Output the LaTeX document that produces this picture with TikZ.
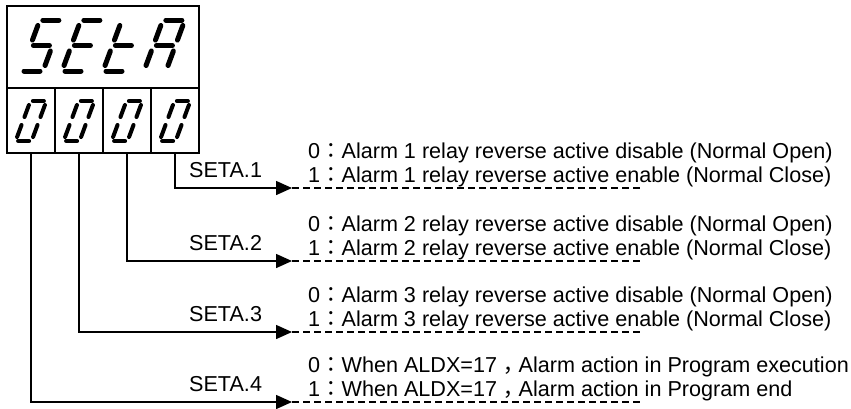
\documentclass[tikz,border=0pt]{standalone}
\usepackage{fontspec}
\setmainfont{Liberation Sans}
\newfontfamily\cjkfont{Noto Sans CJK TC}
\usetikzlibrary{arrows.meta}
\newcommand\fw[1]{{\cjkfont #1}}
\newcommand\fwcomma{\raisebox{-0.28em}{\cjkfont ，}}
\tikzset{
  frame/.style={draw, line width=1.8pt, inner sep=0pt, outer sep=0pt},
  segbig/.style={line width=5pt, line cap=round},
  segsmall/.style={line width=4pt, line cap=round},
  conn/.style={line width=1.5pt, -{Triangle[length=16pt,width=14pt]}},
  dashline/.style={line width=1.3pt, dash pattern=on 7pt off 4pt},
  txt/.style={font=\fontsize{21.6}{24}\selectfont, inner sep=0pt, outer sep=0pt}
}
\def\sevsega{\draw[\sgstyle] (\gh,\H) -- ({\W-\gh},\H);}
\def\sevsegb{\draw[\sgstyle] (\W,{\H-\gv}) -- (\W,{\H/2+\gv});}
\def\sevsegc{\draw[\sgstyle] (\W,{\H/2-\gv}) -- (\W,\gv);}
\def\sevsegd{\draw[\sgstyle] (\gh,0) -- ({\W-\gh},0);}
\def\sevsege{\draw[\sgstyle] (0,\gv) -- (0,{\H/2-\gv});}
\def\sevsegf{\draw[\sgstyle] (0,{\H/2+\gv}) -- (0,{\H-\gv});}
\def\sevsegg{\draw[\sgstyle] (\gh,{\H/2}) -- ({\W-\gh},{\H/2});}
% #1 x, #2 y of bottom-left, #3 W, #4 H, #5 gap h, #6 gap v, #7 style, #8 segments
\newcommand\sevenseg[8]{%
  \begin{scope}[shift={(#1,#2)}, xslant=0.37, x=1pt, y=1pt]
    \def\W{#3}\def\H{#4}\def\gh{#5}\def\gv{#6}\def\sgstyle{#7}%
    \foreach \sg in {#8}{\csname sevseg\sg\endcsname}
  \end{scope}}
\begin{document}
\begin{tikzpicture}[x=1pt, y=-1pt]
\useasboundingbox (0,0) rectangle (851,408);
% display frame
\node[frame, minimum width=192pt, minimum height=82pt] (disp) at (103,47) {};
\node[frame, minimum width=48pt, minimum height=65pt] (c1) at (31,120.5) {};
\node[frame, minimum width=48pt, minimum height=65pt] (c2) at (79,120.5) {};
\node[frame, minimum width=48pt, minimum height=65pt] (c3) at (127,120.5) {};
\node[frame, minimum width=48pt, minimum height=65pt] (c4) at (175,120.5) {};
% SEtA
\sevenseg{21}{71}{22}{51}{3}{5.5}{segbig}{a,f,g,c,d}
\sevenseg{62}{71}{22}{51}{3}{5.5}{segbig}{a,f,g,e,d}
\sevenseg{103}{71}{22}{51}{3}{5.5}{segbig}{f,g,e,d}
\sevenseg{144}{71}{22}{51}{3}{5.5}{segbig}{a,b,c,e,f,g}
% 0000
\sevenseg{15.6}{141}{16}{40}{2.5}{4}{segsmall}{a,b,c,d,e,f}
\sevenseg{63.6}{141}{16}{40}{2.5}{4}{segsmall}{a,b,c,d,e,f}
\sevenseg{111.6}{141}{16}{40}{2.5}{4}{segsmall}{a,b,c,d,e,f}
\sevenseg{159.6}{141}{16}{40}{2.5}{4}{segsmall}{a,b,c,d,e,f}
% arrow tips and dashed ends
\coordinate (p1) at (292,188); \coordinate (q1) at (643,188);
\coordinate (p2) at (292,261); \coordinate (q2) at (643,261);
\coordinate (p3) at (292,332); \coordinate (q3) at (643,332);
\coordinate (p4) at (292,402); \coordinate (q4) at (643,402);
\draw[conn] (c4.south) |- (p1);
\draw[conn] (c3.south) |- (p2);
\draw[conn] (c2.south) |- (p3);
\draw[conn] (c1.south) |- (p4);
\draw[dashline] (p1) -- (q1);
\draw[dashline] (p2) -- (q2);
\draw[dashline] (p3) -- (q3);
\draw[dashline] (p4) -- (q4);
% labels
\node[txt, anchor=base east] (l1) at (262,177.5) {SETA.1};
\node[txt, anchor=base east] (l2) at (262,250.5) {SETA.2};
\node[txt, anchor=base east] (l3) at (262,321.5) {SETA.3};
\node[txt, anchor=base east] (l4) at (262,391.5) {SETA.4};
% descriptions
\node[txt, anchor=base west] (a0) at (308,158) {0\fw{：}Alarm 1 relay reverse active disable (Normal Open)};
\node[txt, anchor=base west] (a1) at (308,182.5) {1\fw{：}Alarm 1 relay reverse active enable (Normal Close)};
\node[txt, anchor=base west] (b0) at (308,231) {0\fw{：}Alarm 2 relay reverse active disable (Normal Open)};
\node[txt, anchor=base west] (b1) at (308,255.5) {1\fw{：}Alarm 2 relay reverse active enable (Normal Close)};
\node[txt, anchor=base west] (d0) at (308,302) {0\fw{：}Alarm 3 relay reverse active disable (Normal Open)};
\node[txt, anchor=base west] (d1) at (308,326.5) {1\fw{：}Alarm 3 relay reverse active enable (Normal Close)};
\node[txt, anchor=base west] (e0) at (308,372) {0\fw{：}When ALDX=17\fwcomma Alarm action in Program execution};
\node[txt, anchor=base west] (e1) at (308,396.5) {1\fw{：}When ALDX=17\fwcomma Alarm action in Program end};
\end{tikzpicture}
\end{document}
